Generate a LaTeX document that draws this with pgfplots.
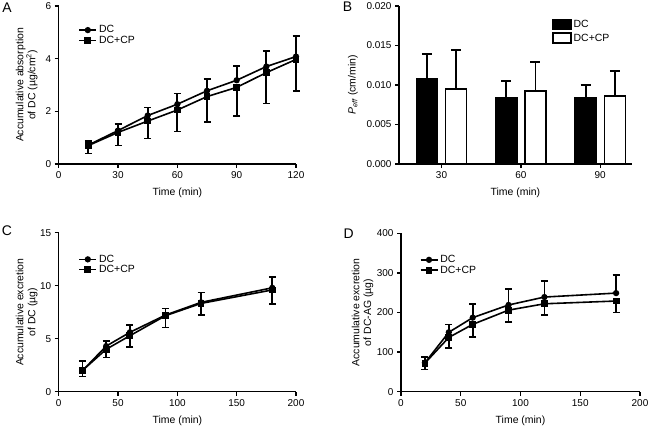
\documentclass[border=0pt]{standalone}
\usepackage{pgfplots}
\pgfplotsset{compat=1.18}
\usepackage{fontspec}
\setmainfont{Liberation Sans}

\pgfplotsset{
 prism/.style={
  scale only axis,
  anchor=south west,
  axis x line*=bottom, axis y line*=left,
  axis line style={line width=1.3bp, -},
  tick align=outside,
  major tick length=4bp,
  tick style={line width=1.3bp, black},
  tick label style={font=\fontsize{10}{12}\selectfont},
  label style={font=\fontsize{10.5}{12}\selectfont},
  /pgf/number format/assume math mode=true,
  legend style={draw=none, fill=none, font=\fontsize{10.5}{12}\selectfont, anchor=west, row sep=-2.5bp},
  legend cell align=left,
  clip=false,
 },
 ser/.style={black, line width=1.6bp, mark options={solid},
  error bars/y explicit, error bars/error mark=-,
  error bars/error mark options={rotate=90, mark size=3.5bp, line width=1.7bp, black},
  error bars/error bar style={line width=1.8bp, black}},
}

\begin{document}
\begin{tikzpicture}
\useasboundingbox (0,0) rectangle (650bp,428bp);

% Panel A
\begin{axis}[prism, at={(58.7bp,264bp)}, width=237.3bp, height=158bp,
  xmin=0, xmax=120, ymin=0, ymax=6,
  xtick={0,30,60,90,120}, ytick={0,2,4,6},
  xlabel={Time (min)},
  ylabel={Accumulative absorption\\of DC (µg/cm\textsuperscript{2})},
  ylabel style={align=center, at={(axis description cs:-0.135,0.5)}, anchor=center},
  xlabel style={at={(axis description cs:0.5,-0.18)}, anchor=center},
  legend style={at={(axis description cs:0.07,0.815)}}]
\addplot[ser, mark=*, mark size=2.3bp, error bars/y dir=plus] table[x=x,y=y,y error=e]{
x y e
15 0.72 0.16
30 1.27 0.25
45 1.84 0.31
60 2.27 0.41
75 2.78 0.46
90 3.18 0.54
105 3.70 0.60
120 4.08 0.78
};
\addlegendentry{DC}
\addplot[ser, mark=square*, mark size=2.6bp, error bars/y dir=minus] table[x=x,y=y,y error=e]{
x y e
15 0.70 0.30
30 1.20 0.50
45 1.63 0.66
60 2.05 0.82
75 2.56 0.97
90 2.91 1.09
105 3.47 1.17
120 3.97 1.21
};
\addlegendentry{DC+CP}
\end{axis}

% Panel B
\begin{axis}[prism, at={(399bp,264bp)}, width=232.7bp, height=158bp,
  xmin=-0.536, xmax=2.397, ymin=0, ymax=0.02,
  ytick={0,0.005,0.01,0.015,0.02}, scaled y ticks=false,
  yticklabel style={/pgf/number format/.cd, fixed, fixed zerofill, precision=3},
  xtick={0,1,2}, xticklabels={30,60,90},
  ybar, bar width=21bp,
  xlabel={Time (min)},
  ylabel={\textit{P}\textsubscript{\textit{eff}} (cm/min)},
  ylabel style={at={(axis description cs:-0.198,0.5)}, anchor=center},
  xlabel style={at={(axis description cs:0.5,-0.18)}, anchor=center},
  legend image code/.code={\draw[#1, line width=1.4bp] (0bp,-5bp) rectangle (18bp,5bp);},
  legend style={at={(axis description cs:0.645,0.84)}, row sep=1bp}]
\addplot[fill=black, draw=black, line width=1.5bp, bar shift=-14.6bp,
  error bars/y dir=plus, error bars/y explicit, error bars/error mark=-,
  error bars/error mark options={rotate=90, mark size=5bp, line width=1.8bp, black},
  error bars/error bar style={line width=1.8bp, black}] table[x=x,y=y,y error=e]{
x y e
0 0.01076 0.00312
1 0.00844 0.00211
2 0.00844 0.00156
};
\addlegendentry{DC}
\addplot[fill=white, draw=black, line width=1.5bp, bar shift=14.6bp,
  error bars/y dir=plus, error bars/y explicit, error bars/error mark=-,
  error bars/error mark options={rotate=90, mark size=5bp, line width=1.8bp, black},
  error bars/error bar style={line width=1.8bp, black}] table[x=x,y=y,y error=e]{
x y e
0 0.00950 0.00493
1 0.00924 0.00363
2 0.00860 0.00317
};
\addlegendentry{DC+CP}
\end{axis}

% Panel C
\begin{axis}[prism, at={(58.7bp,36.3bp)}, width=237.3bp, height=159bp,
  xmin=0, xmax=200, ymin=0, ymax=15,
  xtick={0,50,100,150,200}, ytick={0,5,10,15},
  xlabel={Time (min)},
  ylabel={Accumulative excretion\\of DC (µg)},
  ylabel style={align=center, at={(axis description cs:-0.135,0.5)}, anchor=center},
  xlabel style={at={(axis description cs:0.5,-0.185)}, anchor=center},
  legend style={at={(axis description cs:0.07,0.80)}}]
\addplot[ser, mark=*, mark size=2.3bp, error bars/y dir=plus] table[x=x,y=y,y error=e]{
x y e
20 1.98 0.93
40 4.30 0.45
60 5.60 0.70
90 7.23 0.63
120 8.43 0.94
180 9.80 1.00
};
\addlegendentry{DC}
\addplot[ser, mark=square*, mark size=2.6bp, error bars/y dir=minus] table[x=x,y=y,y error=e]{
x y e
20 2.00 0.58
40 4.00 0.76
60 5.28 1.03
90 7.17 1.10
120 8.33 1.10
180 9.60 1.33
};
\addlegendentry{DC+CP}
\end{axis}

% Panel D
\begin{axis}[prism, at={(401bp,36.3bp)}, width=239bp, height=158.4bp,
  xmin=0, xmax=200, ymin=0, ymax=400,
  xtick={0,50,100,150,200}, ytick={0,100,200,300,400},
  xlabel={Time (min)},
  ylabel={Accumulative excretion\\of DC-AG (µg)},
  ylabel style={align=center, at={(axis description cs:-0.161,0.5)}, anchor=center},
  xlabel style={at={(axis description cs:0.5,-0.185)}, anchor=center},
  legend style={at={(axis description cs:0.065,0.80)}}]
\addplot[ser, mark=*, mark size=2.3bp, error bars/y dir=plus] table[x=x,y=y,y error=e]{
x y e
20 73 15
40 150 20
60 187 34
90 219 40
120 239 41
180 249 45
};
\addlegendentry{DC}
\addplot[ser, mark=square*, mark size=2.6bp, error bars/y dir=minus] table[x=x,y=y,y error=e]{
x y e
20 72 16
40 137 27
60 170 31
90 206 30
120 222 28
180 229 29
};
\addlegendentry{DC+CP}
\end{axis}

\node[font=\fontsize{14}{14}\selectfont] at (7bp,420bp) {A};
\node[font=\fontsize{14}{14}\selectfont] at (347.5bp,421bp) {B};
\node[font=\fontsize{14}{14}\selectfont] at (7bp,197bp) {C};
\node[font=\fontsize{14}{14}\selectfont] at (348.7bp,194bp) {D};
\end{tikzpicture}
\end{document}
